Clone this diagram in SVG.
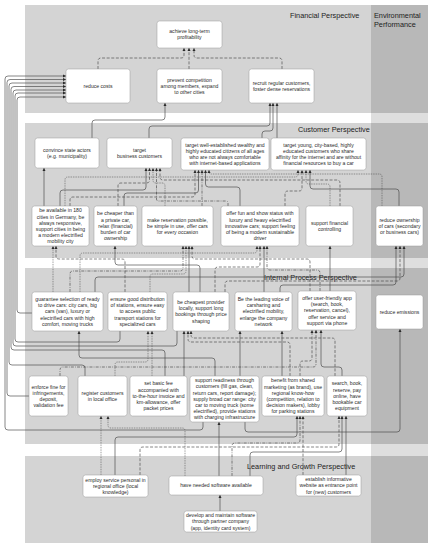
<svg xmlns="http://www.w3.org/2000/svg" width="434" height="550" viewBox="0 0 434 550">
<style>
.p{fill:#d4d4d4}
.env{fill:#000;fill-opacity:.13}
.ttl{font-family:"Liberation Sans",Arial,sans-serif;font-size:7.3px;fill:#222}
.n rect{fill:#fff;stroke:#9a9a9a;stroke-width:.5}
.n text{font-family:"Liberation Sans",Arial,sans-serif;font-size:5.1px;fill:#2a2a2a;text-anchor:middle}
#conn path{fill:none;stroke:#464646;stroke-width:.65;marker-end:url(#ah)}
#conn .d{stroke-dasharray:3 1.6}
#conn .o{stroke-dasharray:.8 .9}
#conn .dd{stroke-dasharray:3 1.2 .8 1.2}
</style>
<defs>
<marker id="ah" viewBox="0 0 6 6" refX="6" refY="3" markerWidth="3.2" markerHeight="3.2" markerUnits="userSpaceOnUse" orient="auto"><path d="M0,0 L6,3 L0,6 z" fill="#2a2a2a"/></marker>
</defs>
<rect width="434" height="550" fill="#fff"/>
<g id="panels">
<rect class="p" x="25" y="5" width="403" height="108"/>
<rect class="p" x="25" y="123" width="403" height="135"/>
<rect class="p" x="25" y="268" width="403" height="176"/>
<rect class="p" x="25" y="456" width="403" height="87"/>
<rect class="env" x="371" y="5" width="57" height="538"/>
<text class="ttl" x="290" y="17.5">Financial Perspective</text>
<text class="ttl" x="374" y="17.5">Environmental</text>
<text class="ttl" x="374" y="26.5">Performance</text>
<text class="ttl" x="298" y="131.5">Customer Perspective</text>
<text class="ttl" x="264" y="279.5">Internal Process Perspective</text>
<text class="ttl" x="247" y="468.5">Learning and Growth Perspective</text>
</g>
<g id="conn">
<path class="d" d="M98,69 V61 Q98,58 101,58 H181 Q184,58 184,55 V48"/>
<path class="d" d="M189,69 V48"/>
<path class="d" d="M282,69 V61 Q282,58 279,58 H197 Q194,58 194,55 V48"/>
<path d="M92,138 V123 Q92,120 95,120 H162 Q165,120 165,117 V103"/>
<path d="M149,138 V129 Q149,126 152,126 H267 Q270,126 270,123 V103"/>
<path d="M262,138 V134 Q262,131 265,131 H270 Q273,131 273,128 V103"/>
<path d="M277,138 V103"/>
<path d="M44,206 V168"/>
<path d="M60,206 V193 Q60,190 63,190 H143 Q146,190 146,187 V168"/>
<path class="d" d="M70,206 V200 Q70,197 73,197 H192 Q195,197 195,194 V170"/>
<path class="o" d="M65,206 V180 Q65,177 68,177 H295 Q298,177 298,174 V170"/>
<path class="d" d="M118,206 V186 Q118,183 121,183 H146.5 Q149.5,183 149.5,180 V168"/>
<path d="M124,206 V196 Q124,193 127,193 H195.5 Q198.5,193 198.5,190 V170"/>
<path class="o" d="M165,206 V186 Q165,183 162,183 H156 Q153,183 153,180 V168"/>
<path class="dd" d="M202,206 V170"/>
<path class="dd" d="M228,206 V203 Q228,201 226,201 H158.5 Q156.5,201 156.5,199 V168"/>
<path d="M240,206 V190 Q240,187 237,187 H208.5 Q205.5,187 205.5,184 V170"/>
<path class="d" d="M285,206 V194 Q285,191 288,191 H299 Q302,191 302,188 V170"/>
<path class="o" d="M330,206 V187 Q330,184 327,184 H309 Q306,184 306,181 V170"/>
<path d="M399,206 V192 Q399,189 396,189 H313 Q310,189 310,186 V170"/>
<path class="o" d="M382,206 V177 Q382,174 379,174 H211 Q209,174 209,172 V170"/>
<path class="d" d="M340,206 V183 Q340,180 337,180 H163 Q160,180 160,177 V168"/>
<path class="o" d="M53,292 V246"/>
<path class="d" d="M125,292 V262 Q125,259 122,259 H59 Q56,259 56,256 V246"/>
<path d="M200,292 V268 Q200,265 197,265 H118 Q115,265 115,262 V246"/>
<path class="dd" d="M70,292 V274 Q70,271 73,271 H180 Q183,271 183,268 V246"/>
<path class="o" d="M150,292 V277 Q150,274 153,274 H183 Q186,274 186,271 V246"/>
<path d="M189,292 V246"/>
<path class="d" d="M310,291 V262 Q310,259 307,259 H195 Q192,259 192,256 V246"/>
<path class="o" d="M80,292 V256 Q80,253 83,253 H254 Q257,253 257,250 V246"/>
<path class="d" d="M215,292 V270 Q215,267 218,267 H257 Q260,267 260,264 V246"/>
<path d="M264,292 V246"/>
<path class="dd" d="M320,291 V273 Q320,270 317,270 H270 Q267,270 267,267 V246"/>
<path d="M330,291 V246"/>
<path d="M95,292 V280 Q95,277 98,277 H401 Q404,277 404,274 V246"/>
<path class="d" d="M225,292 V284 Q225,281 228,281 H397 Q400,281 400,278 V246"/>
<path d="M280,292 V288 Q280,285 283,285 H393 Q396,285 396,282 V246"/>
<path d="M184,376 V331"/>
<path class="d" d="M290,376 V345 Q290,342 287,342 H191 Q188,342 188,339 V331"/>
<path class="d" d="M335,376 V341 Q335,338 332,338 H194 Q191,338 191,335 V331"/>
<path d="M215,376 V361 Q215,358 212,358 H82 Q79,358 79,355 V331"/>
<path class="o" d="M115,376 V365 Q115,362 118,362 H145 Q148,362 148,359 V331"/>
<path class="o" d="M152,376 V331"/>
<path d="M240,376 V331"/>
<path d="M282,376 V331"/>
<path class="d" d="M300,376 V364 Q300,361 303,361 H309 Q312,361 312,358 V330"/>
<path class="dd" d="M60,376 V370 Q60,367 63,367 H313 Q316,367 316,364 V330"/>
<path d="M342,376 V370 Q342,367 339,367 H324 Q321,367 321,364 V330"/>
<path class="o" d="M101,475 V416"/>
<path class="o" d="M185,476 V431 Q185,428 182,428 H111 Q108,428 108,425 V416"/>
<path d="M219,476 V422"/>
<path d="M115,475 V440 Q115,437 118,437 H294 Q297,437 297,434 V416"/>
<path class="dd" d="M232,476 V446 Q232,443 235,443 H297 Q300,443 300,440 V416"/>
<path class="d" d="M303,475 V416"/>
<path d="M346,475 V416"/>
<path class="d" d="M140,475 V450 Q140,447 143,447 H336 Q339,447 339,444 V416"/>
<path d="M250,476 V455 Q250,452 253,452 H339 Q342,452 342,449 V416"/>
<path d="M220,511 V495"/>
<path d="M203,422 V427 Q203,430 200,430 H8 Q5,430 5,427 V79 Q5,76 8,76 H66"/>
<path d="M245,422 V429 Q245,432 248,432 H397 Q400,432 400,429 V329"/>
<path d="M29,396 H10 Q7,396 7,393 V82.5 Q7,79.5 10,79.5 H66"/>
<path d="M85,376 V368 Q85,365 82,365 H12 Q9,365 9,362 V86 Q9,83 12,83 H66"/>
<path d="M165,376 V353 Q165,350 162,350 H14 Q11,350 11,347 V89.5 Q11,86.5 14,86.5 H66"/>
<path d="M177,331 V343 Q177,346 174,346 H16 Q13,346 13,343 V93 Q13,90 16,90 H66"/>
<path d="M120,331 V339 Q120,342 117,342 H18 Q15,342 15,339 V96 Q15,93 18,93 H66"/>
<path d="M32,313 H20 Q17,313 17,310 V100 Q17,97 20,97 H66"/>
</g>
<g id="achieve" class="n"><rect x="157" y="21" width="65" height="27" rx="2.5"/><text x="189.5" y="33.2">achieve long-term</text><text x="189.5" y="39.4">profitability</text></g>
<g id="reduce-costs" class="n"><rect x="66" y="69" width="64" height="34" rx="2.5"/><text x="98" y="87.8">reduce costs</text></g>
<g id="prevent" class="n"><rect x="157" y="69" width="65" height="34" rx="2.5"/><text x="189.5" y="81.6">prevent competition</text><text x="189.5" y="87.8">among members, expand</text><text x="189.5" y="94">to other cities</text></g>
<g id="recruit" class="n"><rect x="249" y="69" width="65" height="34" rx="2.5"/><text x="281.5" y="84.7">recruit regular customers,</text><text x="281.5" y="90.9">foster dense reservations</text></g>
<g id="convince" class="n"><rect x="35" y="138" width="64" height="30" rx="2.5"/><text x="67" y="151.7">convince state actors</text><text x="67" y="157.9">(e.g. municipality)</text></g>
<g id="target-business" class="n"><rect x="107" y="138" width="65" height="30" rx="2.5"/><text x="139.5" y="151.7">target</text><text x="139.5" y="157.9">business customers</text></g>
<g id="target-wealthy" class="n"><rect x="181" y="138" width="88" height="32" rx="2.5"/><text x="225" y="146.5">target well-established wealthy and</text><text x="225" y="152.7">highly educated citizens of all ages</text><text x="225" y="158.9">who are not always comfortable</text><text x="225" y="165.1">with internet-based applications</text></g>
<g id="target-young" class="n"><rect x="271" y="138" width="95" height="32" rx="2.5"/><text x="318.5" y="146.5">target young, city-based, highly</text><text x="318.5" y="152.7">educated customers who share</text><text x="318.5" y="158.9">affinity for the internet and are without</text><text x="318.5" y="165.1">financial resources to buy a car</text></g>
<g id="be-available" class="n"><rect x="32" y="206" width="57" height="40" rx="2.5"/><text x="60.5" y="212.3">be available in 180</text><text x="60.5" y="218.5">cities in Germany, be</text><text x="60.5" y="224.7">always responsive,</text><text x="60.5" y="230.9">support cities in being</text><text x="60.5" y="237.1">a modern electrified</text><text x="60.5" y="243.3">mobility city</text></g>
<g id="be-cheaper" class="n"><rect x="94" y="206" width="43" height="40" rx="2.5"/><text x="115.5" y="215.4">be cheaper than</text><text x="115.5" y="221.6">a private car,</text><text x="115.5" y="227.8">relax (financial)</text><text x="115.5" y="234">burden of car</text><text x="115.5" y="240.2">ownership</text></g>
<g id="make-reservation" class="n"><rect x="142" y="206" width="71" height="40" rx="2.5"/><text x="177.5" y="221.6">make reservation possible,</text><text x="177.5" y="227.8">be simple in use, offer cars</text><text x="177.5" y="234">for every occasion</text></g>
<g id="offer-fun" class="n"><rect x="221" y="206" width="78" height="40" rx="2.5"/><text x="260" y="215.4">offer fun and show status with</text><text x="260" y="221.6">luxury and heavy electrified</text><text x="260" y="227.8">innovative cars; support feeling</text><text x="260" y="234">of being a modern sustainable</text><text x="260" y="240.2">driver</text></g>
<g id="support-financial" class="n"><rect x="306" y="206" width="47" height="40" rx="2.5"/><text x="329.5" y="224.7">support financial</text><text x="329.5" y="230.9">controlling</text></g>
<g id="reduce-ownership" class="n"><rect x="376" y="206" width="47" height="40" rx="2.5"/><text x="399.5" y="221.6">reduce ownership</text><text x="399.5" y="227.8">of cars (secondary</text><text x="399.5" y="234">or business cars)</text></g>
<g id="guarantee" class="n"><rect x="32" y="292" width="71" height="39" rx="2.5"/><text x="67.5" y="300.9">guarantee selection of ready</text><text x="67.5" y="307.1">to drive cars: city cars, big</text><text x="67.5" y="313.3">cars (van), luxury or</text><text x="67.5" y="319.5">electrified cars with high</text><text x="67.5" y="325.7">comfort, moving trucks</text></g>
<g id="ensure" class="n"><rect x="108" y="292" width="59" height="39" rx="2.5"/><text x="137.5" y="300.9">ensure good distribution</text><text x="137.5" y="307.1">of stations, ensure easy</text><text x="137.5" y="313.3">to access public</text><text x="137.5" y="319.5">transport stations for</text><text x="137.5" y="325.7">specialized cars</text></g>
<g id="be-cheapest" class="n"><rect x="173" y="292" width="56" height="39" rx="2.5"/><text x="201" y="304">be cheapest provider</text><text x="201" y="310.2">locally, support long</text><text x="201" y="316.4">bookings through price</text><text x="201" y="322.6">shaping</text></g>
<g id="leading-voice" class="n"><rect x="235" y="292" width="57" height="39" rx="2.5"/><text x="263.5" y="300.9">Be the leading voice of</text><text x="263.5" y="307.1">carsharing and</text><text x="263.5" y="313.3">electrified mobility,</text><text x="263.5" y="319.5">enlarge the company</text><text x="263.5" y="325.7">network</text></g>
<g id="offer-app" class="n"><rect x="298" y="291" width="58" height="39" rx="2.5"/><text x="327" y="299.9">offer user-friendly app</text><text x="327" y="306.1">(search, book,</text><text x="327" y="312.3">reservation, cancel),</text><text x="327" y="318.5">offer service and</text><text x="327" y="324.7">support via phone</text></g>
<g id="reduce-emissions" class="n"><rect x="376" y="295" width="47" height="34" rx="2.5"/><text x="399.5" y="313.8">reduce emissions</text></g>
<g id="enforce-fine" class="n"><rect x="29" y="376" width="39" height="40" rx="2.5"/><text x="48.5" y="388.5">enforce fine for</text><text x="48.5" y="394.7">infringements,</text><text x="48.5" y="400.9">deposit,</text><text x="48.5" y="407.1">validation fee</text></g>
<g id="register" class="n"><rect x="78" y="376" width="49" height="40" rx="2.5"/><text x="102.5" y="394.7">register customers</text><text x="102.5" y="400.9">in local office</text></g>
<g id="basic-fee" class="n"><rect x="130" y="376" width="57" height="40" rx="2.5"/><text x="158.5" y="385.4">set basic fee</text><text x="158.5" y="391.6">accompanied with</text><text x="158.5" y="397.8">to-the-hour invoice and</text><text x="158.5" y="404">km-allowance, offer</text><text x="158.5" y="410.2">packet prices</text></g>
<g id="support-readiness" class="n"><rect x="190" y="376" width="69" height="46" rx="2.5"/><text x="224.5" y="382.2">support readiness through</text><text x="224.5" y="388.4">customers (fill gas, clean,</text><text x="224.5" y="394.6">return cars, report damage);</text><text x="224.5" y="400.8">supply broad car range: city</text><text x="224.5" y="407">car to moving truck (some</text><text x="224.5" y="413.2">electrified), provide stations</text><text x="224.5" y="419.4">with charging infrastructure</text></g>
<g id="benefit" class="n"><rect x="262" y="376" width="62" height="40" rx="2.5"/><text x="293" y="382.3">benefit from shared</text><text x="293" y="388.5">marketing (as brand), use</text><text x="293" y="394.7">regional know-how</text><text x="293" y="400.9">(competition, relation to</text><text x="293" y="407.1">decision makers), lobby</text><text x="293" y="413.3">for parking stations</text></g>
<g id="search" class="n"><rect x="327" y="376" width="40" height="40" rx="2.5"/><text x="347" y="385.4">search, book,</text><text x="347" y="391.6">reserve, pay</text><text x="347" y="397.8">online, have</text><text x="347" y="404">bookable car</text><text x="347" y="410.2">equipment</text></g>
<g id="employ" class="n"><rect x="83" y="475" width="65" height="22" rx="2.5"/><text x="115.5" y="481.6">employ service personal in</text><text x="115.5" y="487.8">regional office (local</text><text x="115.5" y="494">knowledge)</text></g>
<g id="software" class="n"><rect x="169" y="476" width="94" height="19" rx="2.5"/><text x="216" y="487.3">have needed software available</text></g>
<g id="website" class="n"><rect x="296" y="475" width="65" height="21" rx="2.5"/><text x="328.5" y="481.1">establish informative</text><text x="328.5" y="487.3">website as entrance point</text><text x="328.5" y="493.5">for (new) customers</text></g>
<g id="develop" class="n"><rect x="184" y="511" width="73" height="21" rx="2.5"/><text x="220.5" y="517.1">develop and maintain software</text><text x="220.5" y="523.3">through partner company</text><text x="220.5" y="529.5">(app, identity card system)</text></g>
</svg>
